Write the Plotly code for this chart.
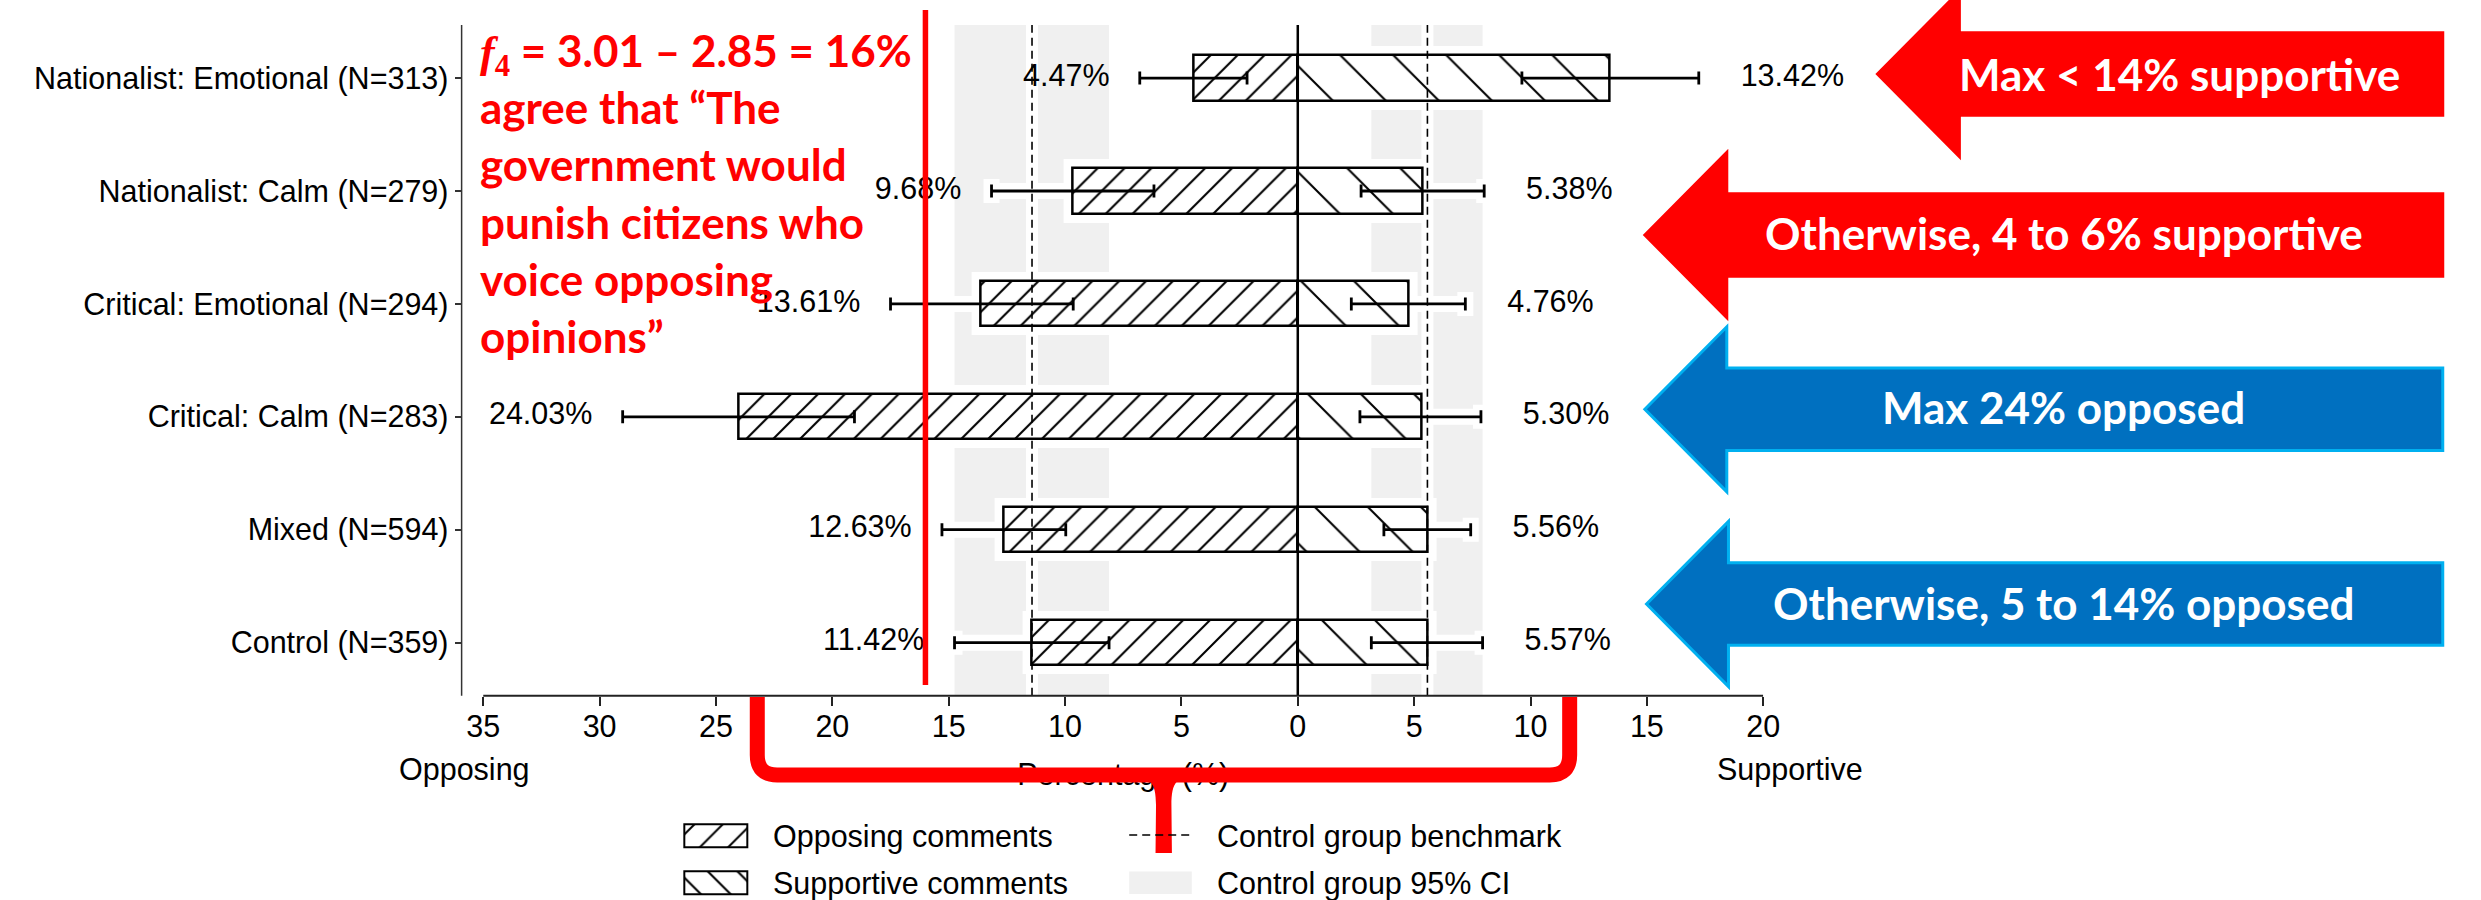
import plotly.graph_objects as go

W, H = 2481, 900

# ---- data -------------------------------------------------------------
groups = [
    "Nationalist: Emotional (N=313)",
    "Nationalist: Calm (N=279)",
    "Critical: Emotional (N=294)",
    "Critical: Calm (N=283)",
    "Mixed (N=594)",
    "Control (N=359)",
]
opposing = [4.47, 9.68, 13.61, 24.03, 12.63, 11.42]
supportive = [13.42, 5.38, 4.76, 5.30, 5.56, 5.57]
opp_ci_low = [2.18, 6.18, 9.65, 19.05, 9.97, 8.11]
opp_ci_high = [6.79, 13.16, 17.50, 29.01, 15.29, 14.75]
sup_ci_low = [9.63, 2.72, 2.30, 2.67, 3.70, 3.16]
sup_ci_high = [17.23, 8.01, 7.20, 7.87, 7.43, 7.94]

x_tick_vals = [-35, -30, -25, -20, -15, -10, -5, 0, 5, 10, 15, 20]
x_tick_text = [str(abs(v)) for v in x_tick_vals]

punish_share = 16  # f4 = 3.01 - 2.85
callout_lines = [
    "<span style=\"font-family:'Liberation Serif'\"><i>f</i><sub>4</sub></span> = 3.01 – 2.85 = 16%",
    "agree that “The",
    "government would",
    "punish citizens who",
    "voice opposing",
    "opinions”",
]

arrow_texts = [
    "Max < 14% supportive",
    "Otherwise, 4 to 6% supportive",
    "Max 24% opposed",
    "Otherwise, 5 to 14% opposed",
]
arrow_fill = ["#FF0000", "#FF0000", "#0070C0", "#0070C0"]
arrow_edge = ["#FF0000", "#FF0000", "#00B0F0", "#00B0F0"]

legend_labels = ["Opposing comments", "Supportive comments",
                 "Control group benchmark", "Control group 95% CI"]

# control group reference values
ctrl = groups.index("Control (N=359)")
bench_opp, bench_sup = opposing[ctrl], supportive[ctrl]
band_opp = (opp_ci_low[ctrl], opp_ci_high[ctrl])
band_sup = (sup_ci_low[ctrl], sup_ci_high[ctrl])

# ---- styling ----------------------------------------------------------
FONT = "Liberation Sans, Arial, sans-serif"
FS = 30.5
CALLOUT_FONT = "Lato, Carlito, sans-serif"
BAR_W = 0.4
gap_left, gap_right = 1.3, 1.8

opp_neg = [-v for v in opposing]
opp_err_plus = [v - lo for v, lo in zip(opposing, opp_ci_low)]     # towards zero
opp_err_minus = [hi - v for v, hi in zip(opposing, opp_ci_high)]   # away from zero
sup_err_plus = [hi - v for v, hi in zip(supportive, sup_ci_high)]
sup_err_minus = [v - lo for v, lo in zip(supportive, sup_ci_low)]


def hatch(shape, size, solidity):
    return dict(shape=shape, size=size, solidity=solidity,
                fgcolor="black", bgcolor="white", fillmode="replace")


fig = go.Figure()

# white halo underneath bars and whiskers
for xs, ep, em in [(opp_neg, opp_err_plus, opp_err_minus),
                   (supportive, sup_err_plus, sup_err_minus)]:
    fig.add_trace(go.Bar(
        y=groups, x=xs, orientation="h", width=BAR_W,
        marker=dict(color="white", line=dict(color="white", width=18)),
        error_x=dict(type="data", symmetric=False, array=ep, arrayminus=em,
                     color="white", thickness=16, width=12),
        showlegend=False, hoverinfo="skip",
    ))

fig.add_trace(go.Bar(
    y=groups, x=opp_neg, orientation="h", width=BAR_W, name="Opposing comments",
    marker=dict(color="white", line=dict(color="black", width=2.5),
                pattern=hatch("/", 19, 0.11)),
    error_x=dict(type="data", symmetric=False, array=opp_err_plus,
                 arrayminus=opp_err_minus, color="black", thickness=2.8, width=6.5),
    showlegend=False,
))
fig.add_trace(go.Bar(
    y=groups, x=supportive, orientation="h", width=BAR_W, name="Supportive comments",
    marker=dict(color="white", line=dict(color="black", width=2.5),
                pattern=hatch("\\", 37.5, 0.055)),
    error_x=dict(type="data", symmetric=False, array=sup_err_plus,
                 arrayminus=sup_err_minus, color="black", thickness=2.8, width=6.5),
    showlegend=False,
))

# value labels beyond the whiskers
fig.add_trace(go.Scatter(
    y=groups, x=[-(hi + gap_left) for hi in opp_ci_high], mode="text",
    text=[f"{v:.2f}%" for v in opposing], textposition="middle left",
    textfont=dict(family=FONT, size=FS, color="black"),
    cliponaxis=False, showlegend=False, hoverinfo="skip",
))
fig.add_trace(go.Scatter(
    y=groups, x=[hi + gap_right for hi in sup_ci_high], mode="text",
    text=[f"{v:.2f}%" for v in supportive], textposition="middle right",
    textfont=dict(family=FONT, size=FS, color="black"),
    cliponaxis=False, showlegend=False, hoverinfo="skip",
))

# legend swatches (small auxiliary axes)
fig.add_trace(go.Bar(
    y=[1], x=[1], orientation="h", width=0.5, xaxis="x2", yaxis="y2",
    marker=dict(color="white", line=dict(color="black", width=2),
                pattern=hatch("/", 20, 0.1)),
    showlegend=False, hoverinfo="skip",
))
fig.add_trace(go.Bar(
    y=[0], x=[1], orientation="h", width=0.5, xaxis="x2", yaxis="y2",
    marker=dict(color="white", line=dict(color="black", width=2),
                pattern=hatch("\\", 21, 0.1)),
    showlegend=False, hoverinfo="skip",
))

# axis title on the pixel overlay so the brace can sit on top of it
fig.add_trace(go.Scatter(
    x=[1131], y=[777], mode="text", text=["Percentage (%)"],
    textposition="middle center", textfont=dict(family=FONT, size=FS, color="black"),
    xaxis="x3", yaxis="y3", cliponaxis=False, showlegend=False, hoverinfo="skip",
))

shapes = []
# control group CI bands
for lo, hi in [(-band_opp[1], -band_opp[0]), (band_sup[0], band_sup[1])]:
    shapes.append(dict(type="rect", xref="x", yref="y domain", x0=lo, x1=hi, y0=0, y1=1,
                       fillcolor="#f0f0f0", line=dict(width=0), layer="below"))
# benchmark lines: white halo below, dashed line above
for xb in [-bench_opp, bench_sup]:
    shapes.append(dict(type="line", xref="x", yref="y domain", x0=xb, x1=xb, y0=0, y1=1,
                       line=dict(color="white", width=12), layer="below"))
    shapes.append(dict(type="line", xref="x", yref="y domain", x0=xb, x1=xb, y0=0, y1=1,
                       line=dict(color="black", width=1.6, dash="8px,5px"), layer="above"))
# zero line
shapes.append(dict(type="line", xref="x", yref="y domain", x0=0, x1=0, y0=0, y1=1,
                   line=dict(color="black", width=2.5), layer="above"))
# axis spines
shapes.append(dict(type="line", xref="x", yref="y domain", x0=x_tick_vals[0], x1=x_tick_vals[-1],
                   y0=0, y1=0, line=dict(color="#222", width=2), layer="above"))
shapes.append(dict(type="line", xref="x domain", yref="y domain", x0=0, x1=0, y0=0, y1=1,
                   line=dict(color="#333", width=1.5), layer="above"))
# red threshold line
shapes.append(dict(type="line", xref="x", yref="y3", x0=-punish_share, x1=-punish_share,
                   y0=10, y1=685, line=dict(color="#FF0000", width=5.5), layer="above"))

# red brace under the axis
L, R, YB, RAD = 762.5, 1580.5, 775, 20
brace = (f"M {L},697 L {L},{YB - RAD} Q {L},{YB} {L + RAD},{YB} "
         f"L {R - RAD},{YB} Q {R},{YB} {R},{YB - RAD} L {R},697")
shapes.append(dict(type="path", xref="x3", yref="y3", path=brace,
                   line=dict(color="#FF0000", width=15), fillcolor="rgba(0,0,0,0)",
                   layer="above"))
spike = ("M 1138,776 C 1158,776 1164,782 1164,805 L 1163.5,853 L 1180,853 "
         "L 1179.5,805 C 1179.5,782 1185,776 1205,776 Z")
shapes.append(dict(type="path", xref="x3", yref="y3", path=spike,
                   line=dict(width=0), fillcolor="#FF0000", layer="above"))

# block arrows on the right
tips = [(1890.4, 74), (1656.2, 235), (1656.2, 409.3), (1657.9, 604)]
HEAD, HALF_HEAD, HALF_BODY, RIGHT = 82.5, 82.5, 41.3, 2459.6
for (tx, ty), fc, ec in zip(tips, arrow_fill, arrow_edge):
    p = (f"M {tx},{ty} L {tx + HEAD},{ty - HALF_HEAD} L {tx + HEAD},{ty - HALF_BODY} "
         f"L {RIGHT},{ty - HALF_BODY} L {RIGHT},{ty + HALF_BODY} L {tx + HEAD},{ty + HALF_BODY} "
         f"L {tx + HEAD},{ty + HALF_HEAD} Z")
    shapes.append(dict(type="path", xref="x3", yref="y3", path=p, fillcolor=fc,
                       line=dict(color=ec, width=3), layer="above"))

# legend: benchmark line and CI patch
shapes.append(dict(type="line", xref="x3", yref="y3", x0=1137, x1=1200, y0=835, y1=835,
                   line=dict(color="black", width=1.6, dash="8px,5px"), layer="above"))
shapes.append(dict(type="rect", xref="x3", yref="y3", x0=1137, x1=1200, y0=871.5, y1=894,
                   fillcolor="#f0f0f0", line=dict(width=0), layer="above"))

annotations = []
annotations.append(dict(
    xref="x3", yref="y3", x=481, y=22, xanchor="left", yanchor="top", align="left",
    text="<br>".join(callout_lines), showarrow=False,
    font=dict(family=CALLOUT_FONT, size=44, color="#FF0000", weight="bold"),
))
text_pos = [(2195, 74), (2078, 233), (2078, 407), (2078, 603)]
for (cx, cy), t in zip(text_pos, arrow_texts):
    annotations.append(dict(
        xref="x3", yref="y3", x=cx, y=cy, xanchor="center", yanchor="middle",
        text=t, showarrow=False,
        font=dict(family=CALLOUT_FONT, size=44, color="white", weight="bold"),
    ))
for t, cx in [("Opposing", 468), ("Supportive", 1802)]:
    annotations.append(dict(xref="x3", yref="y3", x=cx, y=769, xanchor="center",
                            yanchor="middle", text=t, showarrow=False,
                            font=dict(family=FONT, size=FS, color="black")))
for t, (lx, ly) in zip(legend_labels, [(776, 836), (776, 883), (1223, 836), (1223, 883)]):
    annotations.append(dict(xref="x3", yref="y3", x=lx, y=ly, xanchor="left",
                            yanchor="middle", text=t, showarrow=False,
                            font=dict(family=FONT, size=FS, color="black")))

fig.update_layout(
    width=W, height=H,
    margin=dict(l=0, r=0, t=0, b=0),
    paper_bgcolor="white", plot_bgcolor="rgba(0,0,0,0)",
    font=dict(family=FONT, size=FS, color="black"),
    barmode="overlay", bargap=0,
    showlegend=False,
    xaxis=dict(domain=[464.8 / W, 1775.4 / W], range=[-35.93, 20],
               tickvals=x_tick_vals, ticktext=x_tick_text,
               ticks="outside", ticklen=9, tickwidth=2, tickcolor="#222",
               ticklabelstandoff=-5,
               showgrid=False, zeroline=False, showline=False,
               tickfont=dict(family=FONT, size=FS, color="black"), anchor="y"),
    yaxis=dict(domain=[1 - 695.7 / H, 1 - 25 / H], type="category",
               categoryorder="array", categoryarray=groups[::-1],
               range=[-0.47, 5.47], ticks="outside", ticklen=6, tickwidth=1.5,
               tickcolor="#333", showgrid=False, zeroline=False, showline=False,
               tickfont=dict(family=FONT, size=FS, color="black"), anchor="x"),
    xaxis2=dict(domain=[683 / W, 758.6 / W], range=[-0.1, 1.1], visible=False,
                anchor="y2", fixedrange=True),
    yaxis2=dict(domain=[1 - 896.8 / H, 1 - 812.2 / H], range=[-0.3, 1.5], visible=False,
                anchor="x2", fixedrange=True),
    xaxis3=dict(domain=[0, 1], range=[0, W], visible=False, anchor="y3"),
    yaxis3=dict(domain=[0, 1], range=[H, 0], visible=False, anchor="x3"),
    shapes=shapes,
    annotations=annotations,
)

fig.write_html("out.html", config={"displayModeBar": False})
